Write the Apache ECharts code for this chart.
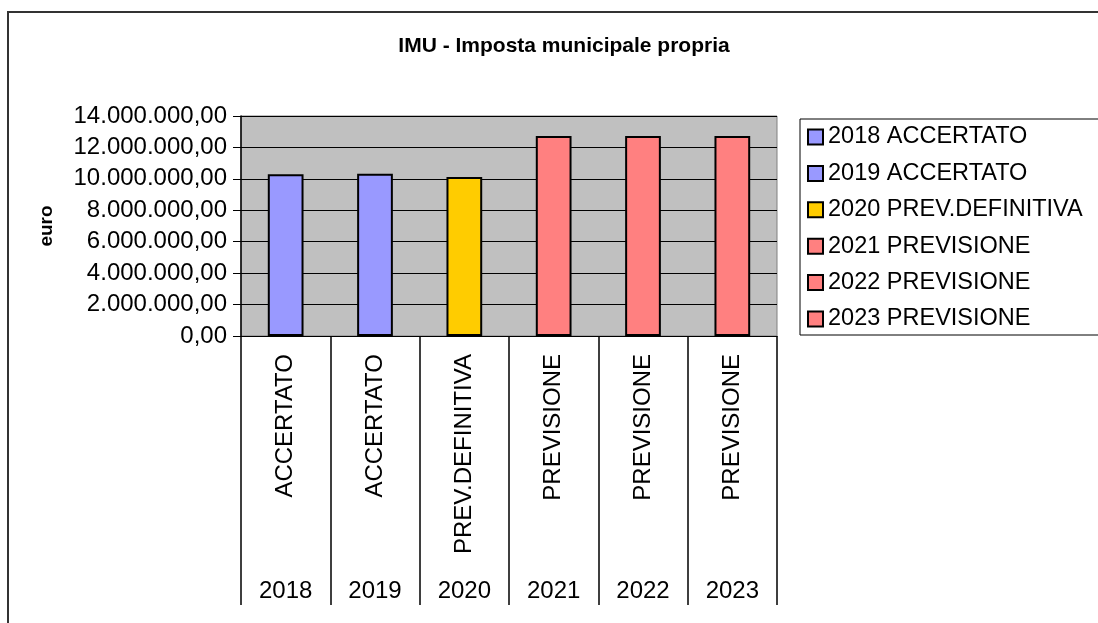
<!DOCTYPE html>
<html>
<head>
<meta charset="utf-8">
<title>IMU - Imposta municipale propria</title>
<script src="https://cdn.jsdelivr.net/npm/echarts@6/dist/echarts.min.js"></script>
<style>
  html, body { margin: 0; padding: 0; background: #ffffff; }
  #chart { width: 1098px; height: 623px; }
</style>
</head>
<body>
<div id="chart"></div>
<script>
// Years (outer category level) and phase labels (inner level)
const years = ['2018', '2019', '2020', '2021', '2022', '2023'];
const phases = ['ACCERTATO', 'ACCERTATO', 'PREV.DEFINITIVA', 'PREVISIONE', 'PREVISIONE', 'PREVISIONE'];
// IMU revenue in euro
const values = [10300000, 10330000, 10120000, 12730000, 12730000, 12730000];
// Y axis range
const yMin = 0;
const yMax = 14000000;
const yStep = 2000000;

const palette = ['#9999FF', '#9999FF', '#FFCC00', '#FF8080', '#FF8080', '#FF8080'];
const FONT = 'Liberation Sans, Arial, sans-serif';

function euro(v) {
  const s = Math.round(v).toString().replace(/\B(?=(\d{3})+(?!\d))/g, '.');
  return s + ',00';
}

// One series per year so each one gets its own legend entry
const series = years.map((y, i) => ({
  name: y + ' ' + phases[i],
  type: 'bar',
  stack: 'imu',
  barWidth: '40%',
  data: years.map((_, j) => (j === i ? values[i] : '-')),
  itemStyle: { color: palette[i], borderColor: '#000000', borderWidth: 2 }
}));

const chart = echarts.init(document.getElementById('chart'), null, { renderer: 'canvas' });
chart.setOption({
  animation: false,
  backgroundColor: '#ffffff',
  graphic: [{
    type: 'rect',
    shape: { x: 8, y: 12, width: 1200, height: 700 },
    style: { fill: 'none', stroke: '#333333', lineWidth: 2 },
    z: -10
  }],
  title: {
    text: 'IMU - Imposta municipale propria',
    left: 559, textAlign: 'center', top: 31,
    textStyle: { fontFamily: FONT, fontWeight: 'bold', fontSize: 21, color: '#000' }
  },
  legend: {
    orient: 'vertical',
    left: 800, top: 119,
    padding: [6, 40, 4, 7],
    itemGap: 12.4,
    itemWidth: 15, itemHeight: 15,
    icon: 'rect',
    borderColor: '#000000', borderWidth: 1,
    textStyle: { fontFamily: FONT, fontSize: 23.5, lineHeight: 24, color: '#000' },
    data: series.map(s => s.name)
  },
  grid: {
    left: 241, right: 321, top: 116, bottom: 287,
    show: true, backgroundColor: '#C0C0C0', borderColor: '#808080', borderWidth: 1
  },
  xAxis: [{
    type: 'category',
    data: phases,
    position: 'bottom',
    axisLine: { show: true, lineStyle: { color: '#000', width: 1 } },
    axisTick: { show: true, length: 269, lineStyle: { color: '#000', width: 1.5 } },
    axisLabel: {
      rotate: 90, margin: 18, interval: 0,
      fontFamily: FONT, fontSize: 24, color: '#000'
    },
    splitLine: { show: false }
  }, {
    type: 'category',
    data: years,
    position: 'bottom',
    offset: 236,
    axisLine: { show: false },
    axisTick: { show: false },
    axisLabel: { interval: 0, margin: 7, fontFamily: FONT, fontSize: 24, color: '#000' }
  }],
  yAxis: {
    type: 'value',
    min: yMin, max: yMax, interval: yStep,
    name: 'euro',
    nameLocation: 'middle',
    nameRotate: 90,
    nameGap: 185,
    nameTextStyle: { fontFamily: FONT, fontWeight: 'bold', fontSize: 19, color: '#000' },
    axisLine: { show: true, lineStyle: { color: '#000', width: 1.5 } },
    axisTick: { show: true, length: 8, lineStyle: { color: '#000' } },
    axisLabel: { margin: 14, fontFamily: FONT, fontSize: 24, color: '#000', formatter: euro },
    splitLine: { show: true, lineStyle: { color: '#000', width: 1 } }
  },
  series: series
});
</script>
</body>
</html>
